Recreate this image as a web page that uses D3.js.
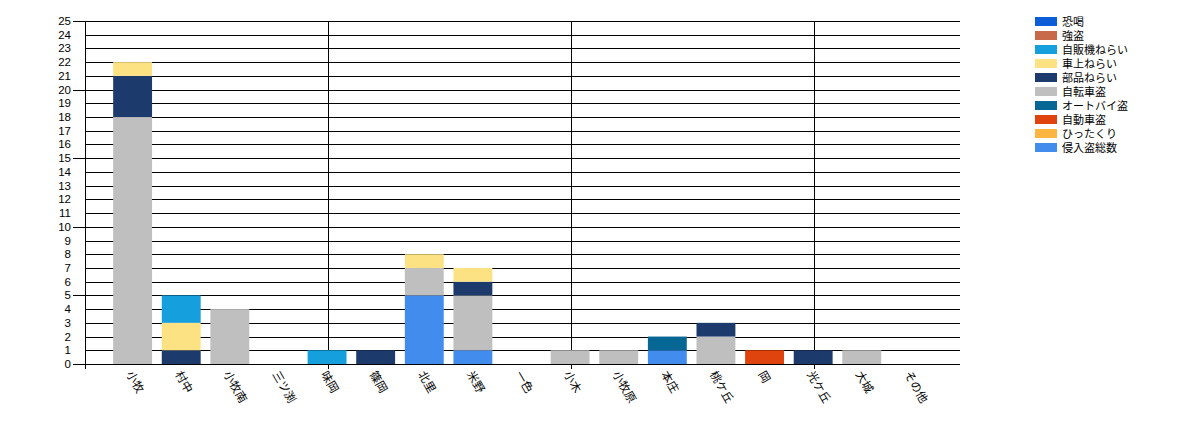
<!DOCTYPE html>
<html><head><meta charset="utf-8">
<script src="https://cdn.jsdelivr.net/npm/d3@7"></script>
<style>
body{margin:0;background:#fff;}
text{font-family:"Noto Sans CJK JP","DejaVu Sans",sans-serif;}
</style></head>
<body><svg id="c" width="1178" height="427"></svg>
<script>
const categories = ["小牧","村中","小牧南","三ツ渕","味岡","篠岡","北里","米野","一色","小木","小牧原","本庄","桃ケ丘","岡","光ケ丘","大城","その他"];
const seriesNames = ["恐喝","強盗","自販機ねらい","車上ねらい","部品ねらい","自転車盗","オートバイ盗","自動車盗","ひったくり","侵入盗総数"];
const seriesColors = ["#0b5ed7","#c8694a","#159fdc","#fde283","#1c3a6b","#bfbfbf","#066794","#e0440e","#fcb540","#418ced"];
const 恐喝 =       [0,0,0,0,0,0,0,0,0,0,0,0,0,0,0,0,0];
const 強盗 =       [0,0,0,0,0,0,0,0,0,0,0,0,0,0,0,0,0];
const 自販機ねらい = [0,2,0,0,1,0,0,0,0,0,0,0,0,0,0,0,0];
const 車上ねらい =   [1,2,0,0,0,0,1,1,0,0,0,0,0,0,0,0,0];
const 部品ねらい =   [3,1,0,0,0,1,0,1,0,0,0,0,1,0,1,0,0];
const 自転車盗 =     [18,0,4,0,0,0,2,4,0,1,1,0,2,0,0,1,0];
const オートバイ盗 = [0,0,0,0,0,0,0,0,0,0,0,1,0,0,0,0,0];
const 自動車盗 =     [0,0,0,0,0,0,0,0,0,0,0,0,0,1,0,0,0];
const ひったくり =   [0,0,0,0,0,0,0,0,0,0,0,0,0,0,0,0,0];
const 侵入盗総数 =   [0,0,0,0,0,0,5,1,0,0,0,1,0,0,0,0,0];
const seriesValues = [恐喝,強盗,自販機ねらい,車上ねらい,部品ねらい,自転車盗,オートバイ盗,自動車盗,ひったくり,侵入盗総数];
const yTicks = d3.range(0,26);

const svg = d3.select("#c");
const L=85,R=960,T=21,B=364;
const x = d3.scaleLinear().domain([0,categories.length+1]).range([L,R]);
const y = d3.scaleLinear().domain([0,25]).range([B,T]);
const step = x(1)-x(0), bw = step*0.8;

// gridlines
svg.append("g").selectAll("line").data(yTicks.filter(d=>d>0)).join("line")
  .attr("x1",L).attr("x2",R).attr("y1",d=>Math.round(y(d))+0.5).attr("y2",d=>Math.round(y(d))+0.5)
  .attr("stroke","#000").attr("stroke-width",1);
svg.append("g").selectAll("line").data([5,10,15]).join("line")
  .attr("x1",d=>Math.round(x(d))+0.5).attr("x2",d=>Math.round(x(d))+0.5).attr("y1",T).attr("y2",B+5)
  .attr("stroke","#000");

// stacked bars: bottom is last series
const stackOrder = seriesNames.map((n,i)=>i).reverse();
categories.forEach((c,ci)=>{
  let acc=0;
  stackOrder.forEach(si=>{
    const v = seriesValues[si][ci];
    if(v>0){
      svg.append("rect").attr("x",x(ci+1)-bw/2-1).attr("width",bw)
        .attr("y",y(acc+v)).attr("height",y(acc)-y(acc+v)).attr("fill",seriesColors[si]);
      acc+=v;
    }
  });
});

// y axis
svg.append("line").attr("x1",L+0.5).attr("x2",L+0.5).attr("y1",T).attr("y2",B+5).attr("stroke","#000");
svg.append("g").selectAll("line").data(yTicks.filter(d=>d%5===0)).join("line")
  .attr("x1",73).attr("x2",L).attr("y1",d=>Math.round(y(d))+0.5).attr("y2",d=>Math.round(y(d))+0.5).attr("stroke","#000");
svg.append("g").selectAll("text").data(yTicks).join("text")
  .attr("x",71).attr("y",d=>y(d)+4).attr("text-anchor","end").attr("font-size",11.5)
  .style("font-family","'Liberation Sans',Arial,sans-serif").text(d=>d);
// x axis
svg.append("line").attr("x1",L).attr("x2",R).attr("y1",B+0.5).attr("y2",B+0.5).attr("stroke","#000");
svg.append("g").selectAll("text").data(categories).join("text")
  .attr("transform",(d,i)=>`translate(${x(i+1)-4},${B+8}) rotate(60)`)
  .attr("font-size",11.5).attr("dy","0.35em").text(d=>d);

// legend
const lg = svg.append("g").attr("transform","translate(1035,17)");
seriesNames.forEach((n,i)=>{
  lg.append("rect").attr("x",0).attr("y",i*14).attr("width",22).attr("height",9).attr("fill",seriesColors[i]);
  lg.append("text").attr("x",27).attr("y",i*14+9).attr("font-size",11).text(n);
});
</script></body></html>
